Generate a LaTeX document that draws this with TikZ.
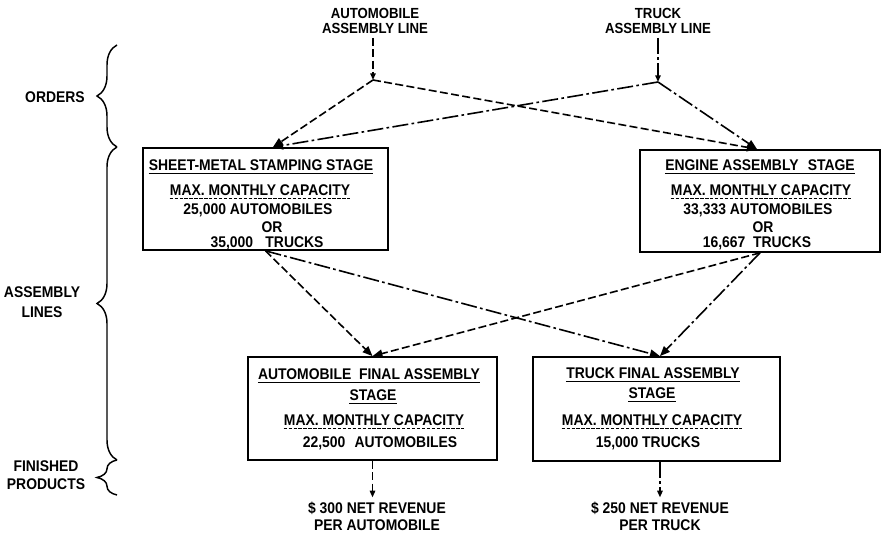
\documentclass[tikz,border=0pt]{standalone}
\usepackage{fontspec}
\setmainfont{Liberation Sans}[FakeStretch=0.9]
\usetikzlibrary{arrows.meta,decorations.pathreplacing,calc}
\begin{document}
\begin{tikzpicture}[x=0.75pt,y=-0.75pt,
  every node/.style={font=\bfseries\fontsize{11.6}{9.75}\selectfont},
  txt/.style={inner sep=0pt,text height=8.3pt,text depth=0pt},
  lbl/.style={inner sep=0pt,align=center},
  toplbl/.style={inner sep=0pt,align=center,font=\bfseries\fontsize{11}{11.2}\selectfont},
  ul/.style={append after command={([yshift=-2.4pt]\tikzlastnode.base west) edge[line width=0.9pt] ([yshift=-2.4pt]\tikzlastnode.base east)}},
  dul/.style={append after command={([yshift=-2.4pt]\tikzlastnode.base west) edge[line width=0.7pt,dash pattern=on 2.5pt off 1.2pt] ([yshift=-2.4pt]\tikzlastnode.base east)}},
  stagebox/.style={draw,line width=1.3pt,inner sep=0pt},
  autoline/.style={line width=1.2pt,dash pattern=on 6pt off 2.5pt},
  truckline/.style={line width=1.2pt,dash pattern=on 12pt off 2.5pt on 2pt off 2.5pt},
  bigtip/.style={-{Triangle[length=7.5pt,width=6pt]}},
  smalltip/.style={-{Triangle[length=5pt,width=4pt]}},
  bracestyle/.style={decorate,decoration={brace,amplitude=15pt},line width=1.1pt}
]
\useasboundingbox (0,0) rectangle (883,534);

% side labels and braces
\node[lbl] (orders) at (55,97) {ORDERS};
\node[lbl,font=\bfseries\fontsize{11.6}{15}\selectfont] (asslines) at (42,302) {ASSEMBLY\\LINES};
\node[lbl,font=\bfseries\fontsize{11.6}{13.5}\selectfont] (finished) at (46,475) {FINISHED\\PRODUCTS};
\draw[bracestyle] (117,147) -- (117,45);
\draw[bracestyle] (117,460) -- (117,147);
\draw[bracestyle] (117,495) -- (117,460);

% top labels
\node[toplbl] (autolbl) at (375,21) {AUTOMOBILE\\ASSEMBLY LINE};
\node[toplbl] (trucklbl) at (658,21) {TRUCK\\ASSEMBLY LINE};
\coordinate (av) at (373,80);
\coordinate (tv) at (658,82);

% stage boxes
\node[stagebox,minimum width=183.75pt,minimum height=76.5pt] (sheet) at (265.5,199) {};
\node[stagebox,minimum width=180pt,minimum height=76.5pt] (engine) at (760,201) {};
\node[stagebox,minimum width=186.75pt,minimum height=77.25pt] (afinal) at (372.5,408.5) {};
\node[stagebox,minimum width=185.25pt,minimum height=78pt] (tfinal) at (656.5,409) {};

% sheet-metal texts
\node[txt,ul] (s1) at (261,165) {SHEET-METAL STAMPING STAGE};
\node[txt,dul] (s2) at (260,190) {MAX. MONTHLY CAPACITY};
\node[txt] (s3) at (258,209) {25,000 AUTOMOBILES};
\node[txt] (s4) at (272,227) {OR};
\node[txt] (s5) at (267,242) {35,000\hspace{0.8em}TRUCKS};

% engine texts
\node[txt,ul] (e1) at (760,165) {ENGINE ASSEMBLY\hspace{0.6em}STAGE};
\node[txt,dul] (e2) at (761,190) {MAX. MONTHLY CAPACITY};
\node[txt] (e3) at (758,209) {33,333 AUTOMOBILES};
\node[txt] (e4) at (763,227) {OR};
\node[txt] (e5) at (757,242) {16,667\hspace{0.5em}TRUCKS};

% automobile final texts
\node[txt,ul] (a1) at (369,374) {AUTOMOBILE\hspace{0.5em}FINAL ASSEMBLY};
\node[txt,ul] (a2) at (373,395) {STAGE};
\node[txt,dul] (a3) at (374,420) {MAX. MONTHLY CAPACITY};
\node[txt] (a4) at (380,442) {22,500\hspace{0.6em}AUTOMOBILES};

% truck final texts
\node[txt,ul] (t1) at (653,373) {TRUCK FINAL ASSEMBLY};
\node[txt,ul] (t2) at (652,393) {STAGE};
\node[txt,dul] (t3) at (652,420) {MAX. MONTHLY CAPACITY};
\node[txt] (t4) at (648,442) {15,000 TRUCKS};

% revenues
\node[lbl,font=\bfseries\fontsize{11.6}{12.75}\selectfont] (rev1) at (377,516) {\$ 300 NET REVENUE\\PER AUTOMOBILE};
\node[lbl,font=\bfseries\fontsize{11.6}{12.75}\selectfont] (rev2) at (660,516) {\$ 250 NET REVENUE\\PER TRUCK};

% connectors
\draw[autoline,smalltip,shorten <=3pt] (autolbl.south -| av) -- (av);
\draw[truckline,smalltip,shorten <=3pt] (trucklbl.south -| tv) -- (tv);
\draw[autoline,bigtip] (av) -- ([xshift=5.6pt]sheet.north);
\draw[autoline,bigtip] (av) -- ([xshift=-2.25pt]engine.north);
\draw[truckline,bigtip] (tv) -- ([xshift=5.6pt]sheet.north);
\draw[truckline,bigtip] (tv) -- ([xshift=-2.25pt]engine.north);
\draw[autoline,bigtip] (sheet.south) -- (afinal.north);
\draw[truckline,bigtip] (sheet.south) -- ([xshift=2.6pt]tfinal.north);
\draw[autoline,bigtip] (engine.south) -- (afinal.north);
\draw[truckline,bigtip] (engine.south) -- ([xshift=2.6pt]tfinal.north);
\draw[autoline,smalltip,shorten >=3pt] (afinal.south) -- (afinal.south |- rev1.north);
\draw[truckline,smalltip,shorten >=3pt] ([xshift=2.6pt]tfinal.south) -- ([xshift=2.6pt]tfinal.south |- rev2.north);
\end{tikzpicture}
\end{document}
